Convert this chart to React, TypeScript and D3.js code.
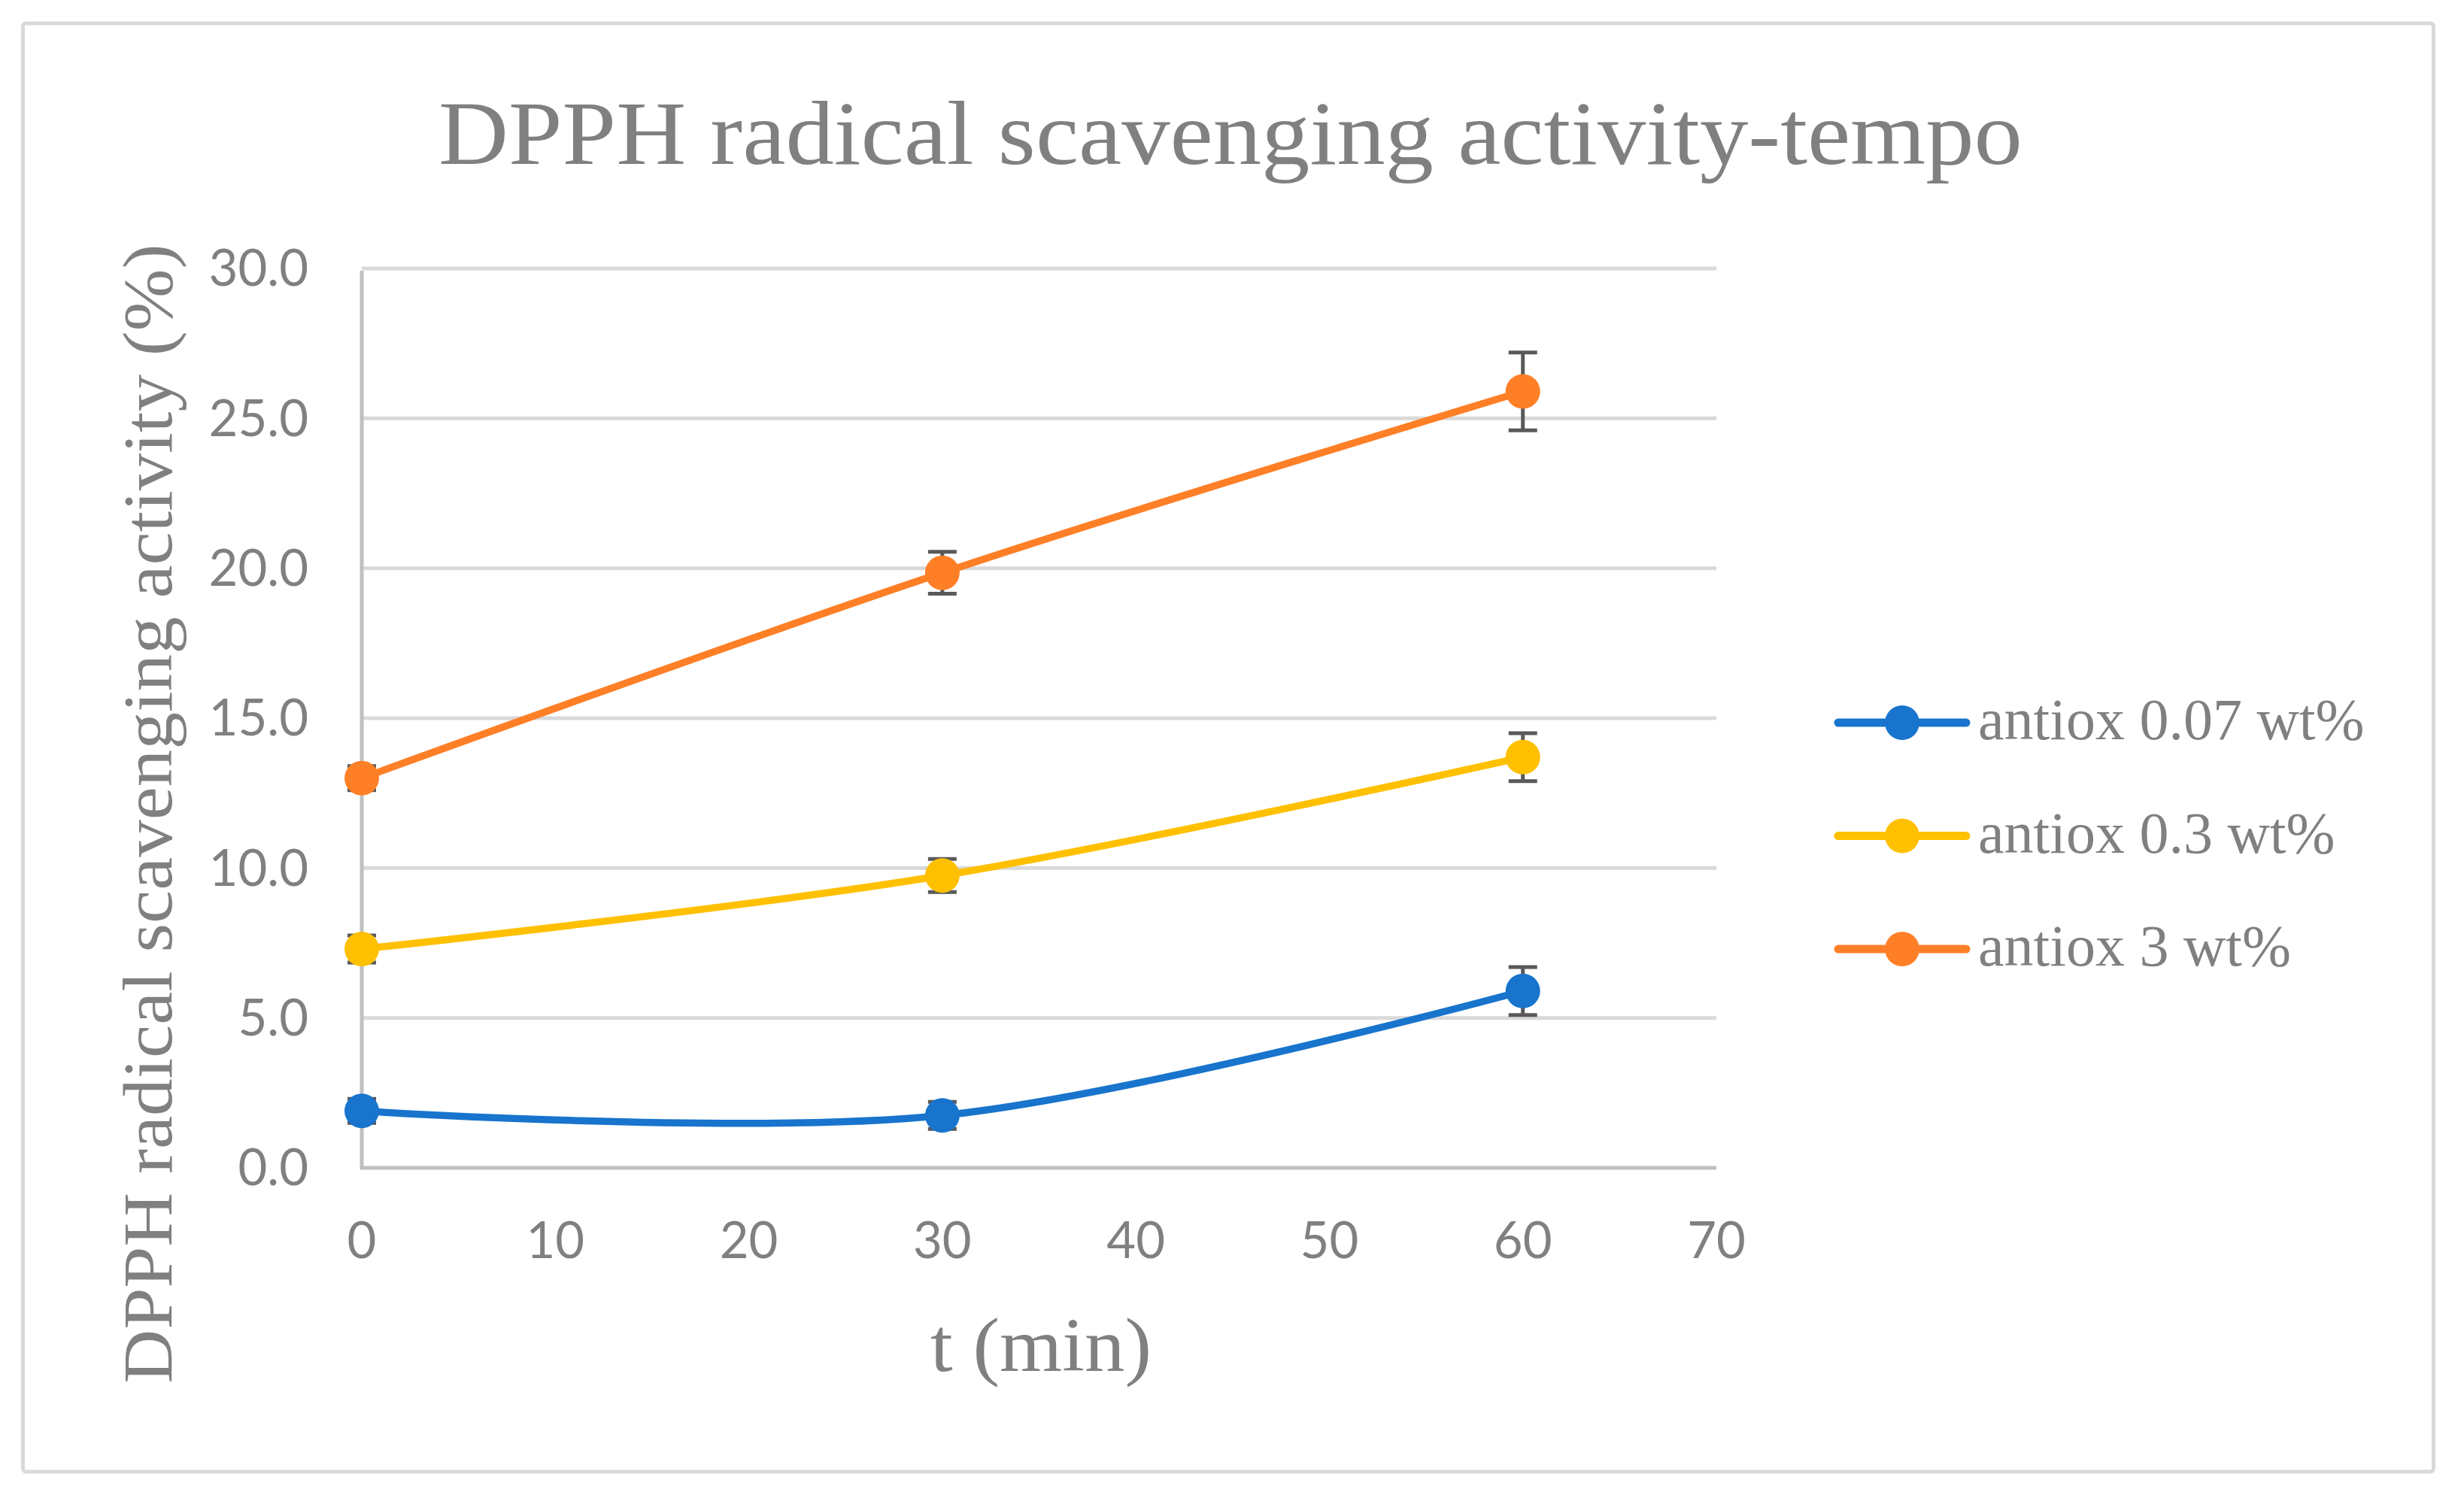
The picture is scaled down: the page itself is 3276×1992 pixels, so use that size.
import React from 'react';
import * as d3 from 'd3';

// sampling times (min)
const times = [0, 30, 60];

// DPPH radical scavenging activity (%) per antioxidant load
const seriesNames = ['antiox 0.07 wt%', 'antiox 0.3 wt%', 'antiox 3 wt%'];
const seriesColors = ['#1874CD', '#FFC000', '#FF7F27'];
const lowValues = [1.9, 1.75, 5.9];
const midValues = [7.3, 9.75, 13.7];
const highValues = [13.0, 19.85, 25.9];
const lowErrors = [0.4, 0.45, 0.8];
const midErrors = [0.45, 0.55, 0.8];
const highErrors = [0.4, 0.7, 1.3];

const xTicks = [0, 10, 20, 30, 40, 50, 60, 70];
const yTicks = [0, 5, 10, 15, 20, 25, 30];

const W = 3276;
const H = 1992;
const textGray = '#808080';
const serif = '"Liberation Serif", "Times New Roman", serif';
const sans = 'Lato, "Open Sans", sans-serif';

export default function App() {
  const x = d3.scaleLinear().domain([0, 70]).range([481, 2282]);
  const y = d3.scaleLinear().domain([0, 30]).range([1553, 357]);

  const series = [
    { name: seriesNames[0], color: seriesColors[0], values: lowValues, errors: lowErrors },
    { name: seriesNames[1], color: seriesColors[1], values: midValues, errors: midErrors },
    { name: seriesNames[2], color: seriesColors[2], values: highValues, errors: highErrors },
  ];

  // Excel-style smoothed line
  const line = d3.line<number>()
    .x((_, i) => x(times[i]))
    .y(d => y(d))
    .curve(d3.curveCardinal.tension(0));

  const [x0, x1] = x.range();

  return (
    <svg width={W} height={H} style={{ position: 'absolute', left: 0, top: 0, background: '#fff' }}>
      <rect x={30.5} y={31} width={3205} height={1926} rx={4}
        fill="#fff" stroke="#d9d9d9" strokeWidth={5} />

      <text x={1636} y={218} textAnchor="middle" fill={textGray}
        fontFamily={serif} fontSize={120} textLength={2106} lengthAdjust="spacingAndGlyphs">
        DPPH radical scavenging activity-tempo
      </text>

      {/* gridlines */}
      {yTicks.filter(t => t > 0).map(t => (
        <line key={'g' + t} x1={x0} x2={x1} y1={y(t)} y2={y(t)} stroke="#d9d9d9" strokeWidth={5} />
      ))}
      {/* axes */}
      <line x1={x0} x2={x0} y1={y(30) + 3} y2={y(0)} stroke="#c0c0c0" strokeWidth={5} />
      <line x1={x0 - 2.5} x2={x1} y1={y(0)} y2={y(0)} stroke="#c0c0c0" strokeWidth={5} />

      {yTicks.map(t => (
        <text key={'yt' + t} x={410} y={y(t)} dy="0.35em" textAnchor="end"
          fill={textGray} fontFamily={sans} fontSize={67}>
          {t.toFixed(1)}
        </text>
      ))}
      {xTicks.map(t => (
        <text key={'xt' + t} x={x(t)} y={1673} textAnchor="middle"
          fill={textGray} fontFamily={sans} fontSize={67}>
          {t}
        </text>
      ))}

      <text x={1384} y={1823} textAnchor="middle" fill={textGray}
        fontFamily={serif} fontSize={102} textLength={294} lengthAdjust="spacingAndGlyphs">
        t (min)
      </text>
      <text transform={`translate(228,1082) rotate(-90)`} textAnchor="middle" fill={textGray}
        fontFamily={serif} fontSize={94} textLength={1515} lengthAdjust="spacingAndGlyphs">
        DPPH radical scavenging activity (%)
      </text>

      {series.map(s => (
        <g key={s.name}>
          <path d={line(s.values) || ''} fill="none" stroke={s.color} strokeWidth={9.5} strokeLinecap="round" />
          {s.values.map((v, i) => {
            const cx = x(times[i]);
            const top = y(v + s.errors[i]);
            const bot = y(v - s.errors[i]);
            return (
              <g key={i} stroke="#595959" strokeWidth={5}>
                <line x1={cx} x2={cx} y1={top} y2={bot} />
                <line x1={cx - 19} x2={cx + 19} y1={top} y2={top} />
                <line x1={cx - 19} x2={cx + 19} y1={bot} y2={bot} />
              </g>
            );
          })}
          {s.values.map((v, i) => (
            <circle key={'m' + i} cx={x(times[i])} cy={y(v)} r={23} fill={s.color} />
          ))}
        </g>
      ))}

      {series.map((s, i) => {
        const cy = 961 + i * 150.5;
        return (
          <g key={'lg' + s.name}>
            <line x1={2444} x2={2614} y1={cy} y2={cy} stroke={s.color} strokeWidth={11} strokeLinecap="round" />
            <circle cx={2529} cy={cy} r={23} fill={s.color} />
            <text x={2630} y={cy + 22} fill={textGray} fontFamily={serif} fontSize={78}>
              {s.name}
            </text>
          </g>
        );
      })}
    </svg>
  );
}
